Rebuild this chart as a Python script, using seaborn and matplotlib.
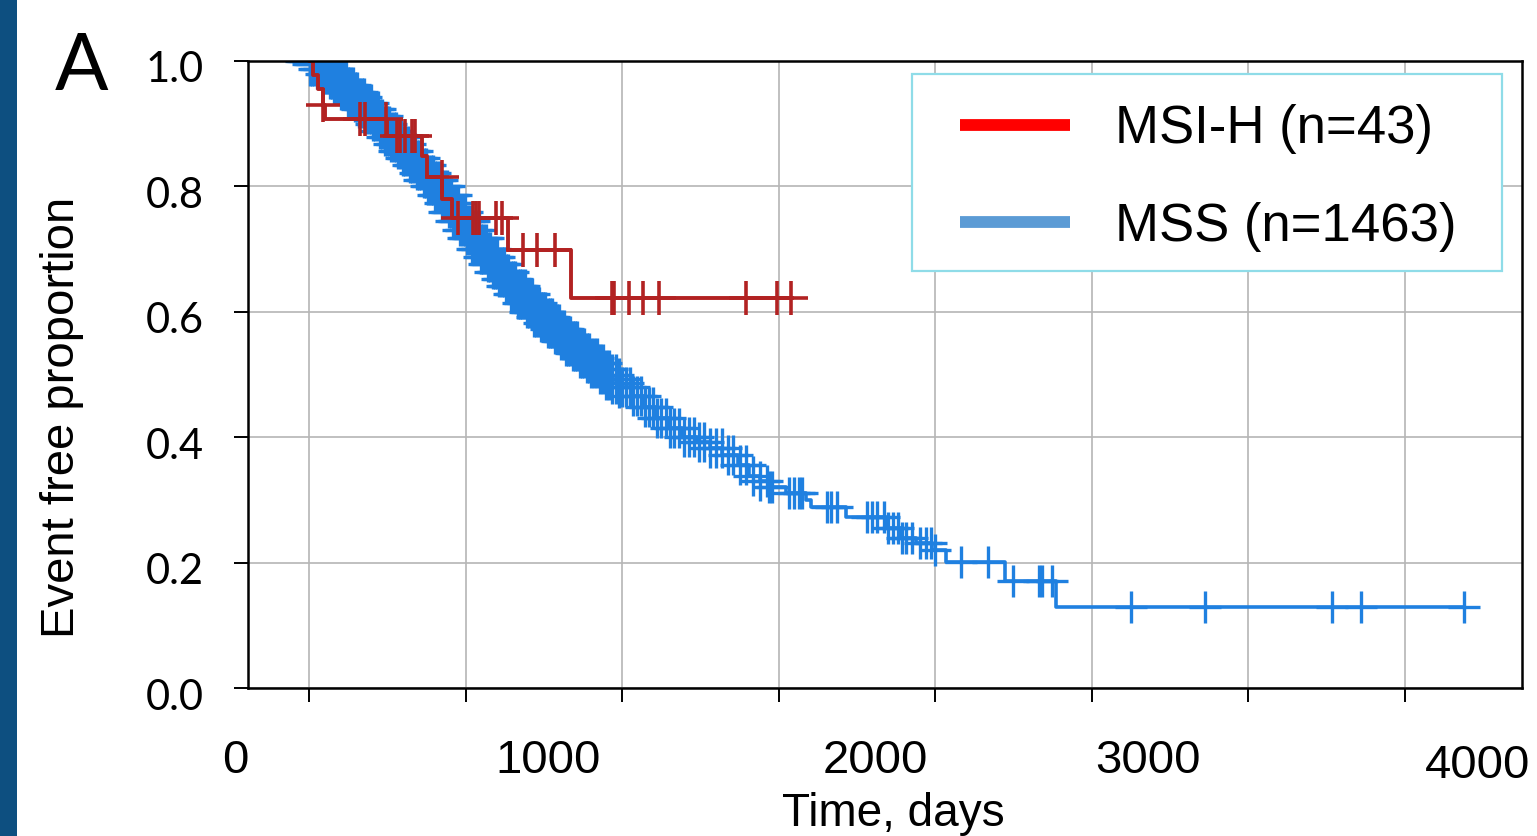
import numpy as np
import seaborn as sns
import matplotlib.pyplot as plt
import matplotlib.transforms as mtransforms
from matplotlib.lines import Line2D
from matplotlib.patches import Rectangle

# ---- data (time in days, event free proportion) ----
# MSS group, n=1463 : step curve knots
mss_time = [0, 20, 40, 60, 80, 100, 120, 140, 160, 180,
            200, 220, 240, 260, 280, 300, 320, 340, 360, 380,
            400, 420, 440, 460, 480, 500, 520, 545, 565, 585,
            605, 625, 645, 665, 690, 714, 736, 758, 780, 800,
            820, 840, 860, 880, 896, 920, 940, 960, 981, 1000,
            1030, 1070, 1109, 1150, 1192, 1240, 1280, 1320, 1370, 1405,
            1440, 1469, 1523, 1587, 1603, 1715, 1842, 1890, 1938, 1989,
            2033, 2224, 2387, 3690]
mss_surv = [1.000, 0.996, 0.988, 0.979, 0.970, 0.961, 0.951, 0.942, 0.933, 0.923,
            0.913, 0.900, 0.889, 0.878, 0.867, 0.857, 0.846, 0.834, 0.822, 0.810,
            0.800, 0.787, 0.773, 0.759, 0.745, 0.731, 0.717, 0.700, 0.688, 0.676,
            0.664, 0.652, 0.641, 0.629, 0.614, 0.600, 0.591, 0.582, 0.572, 0.563,
            0.554, 0.545, 0.535, 0.526, 0.518, 0.509, 0.500, 0.493, 0.486, 0.480,
            0.466, 0.448, 0.430, 0.414, 0.400, 0.392, 0.382, 0.372, 0.355, 0.338,
            0.330, 0.321, 0.311, 0.300, 0.289, 0.273, 0.255, 0.239, 0.231, 0.220,
            0.201, 0.171, 0.129, 0.129]
# MSS censored times
mss_censor = [3, 10, 17, 24, 31, 38, 45, 52, 59, 66, 73, 80, 87, 95, 102, 110,
              117, 124, 131, 139, 146, 153, 161, 168, 175, 183, 190, 197, 205,
              212, 219, 227, 234, 241, 249, 256, 263, 271, 278, 285, 293, 300,
              307, 315, 322, 329, 337, 344, 351, 359, 366, 373, 381, 388, 395,
              403, 410, 417, 425, 432, 439, 447, 454, 461, 469, 476, 483, 491,
              498, 505, 513, 520, 527, 535, 542, 549, 557, 564, 571, 579, 586,
              593, 601, 608, 615, 623, 630, 637, 645, 652, 659, 667, 674, 681,
              689, 696, 703, 711, 718, 725, 733, 740, 747, 755, 762, 769, 777,
              784, 791, 799, 806, 813, 821, 828, 835, 843, 850, 857, 865, 872,
              879, 887, 894, 902, 910, 919, 928, 938, 948, 958, 968, 979, 990,
              1001, 1012, 1024, 1036, 1048, 1060, 1072, 1085, 1098, 1112, 1125,
              1139, 1153, 1167, 1182, 1197, 1212, 1228, 1245, 1262, 1280, 1300,
              1318, 1338, 1355, 1375, 1395, 1418, 1440, 1462, 1469, 1479, 1533,
              1549, 1565, 1575, 1654, 1667, 1686, 1782, 1798, 1814, 1836, 1849,
              1865, 1881, 1893, 1905, 1925, 1950, 1970, 1985, 2000, 2081, 2167,
              2247, 2330, 2342, 2374, 2626, 2861, 3268, 3360, 3690]

# MSI-H group, n=43 : step curve knots
msi_time = [0, 13, 30, 45, 50, 249, 362, 378, 426, 456, 637, 838, 1539]
msi_surv = [1.0, 0.977, 0.955, 0.930, 0.907, 0.880, 0.848, 0.815, 0.780,
            0.750, 0.699, 0.622, 0.622]
# MSI-H censored times
msi_censor = [46, 163, 178, 247, 280, 290, 306, 328, 338, 424, 475, 523, 532,
              542, 596, 615, 682, 727, 784, 966, 975, 1023, 1068, 1119, 1396,
              1495, 1539]

legend_labels = ["MSI-H (n=43)", "MSS (n=1463)"]
x_grid_ticks = [0, 500, 1000, 1500, 2000, 2500, 3000, 3500]
y_ticks = [0.0, 0.2, 0.4, 0.6, 0.8, 1.0]
x_overlay_labels = ["0", "1000", "2000", "3000", "4000"]


def surv_at(times, surv, t):
    idx = np.searchsorted(times, t, side="right") - 1
    return np.asarray(surv)[idx]


W, H = 1537, 836
sns.set_style("whitegrid", rc={
    "axes.edgecolor": "black",
    "grid.color": "#b5b5b5",
    "xtick.bottom": True,
    "ytick.left": True,
    "text.color": "black",
    "xtick.color": "black",
    "ytick.color": "black",
    "axes.labelcolor": "black",
})
plt.rcParams["font.family"] = ["Liberation Sans", "DejaVu Sans"]

fig = plt.figure(figsize=(W / 100, H / 100), dpi=100)
ax = fig.add_axes([248 / W, 1 - 688 / H, (1522 - 248) / W, 627 / H])

blue = "#1f80e0"
red = "#b22222"

# MSS curve + censor marks
sns.lineplot(x=mss_time, y=mss_surv, drawstyle="steps-post", color=blue,
             lw=2.6, estimator=None, sort=False, ax=ax)
mss_c = np.array(mss_censor)
mss_cy = surv_at(mss_time, mss_surv, mss_c)
# the early marks pile up into a thick band in the source, so draw them larger
for lo, hi, size in [(0, 1000, 1250), (1000, 1450, 850), (1450, 4000, 560)]:
    sel = (mss_c >= lo) & (mss_c < hi)
    sns.scatterplot(x=mss_c[sel], y=mss_cy[sel], marker="+", s=size,
                    linewidth=2.4, color=blue, ax=ax, zorder=2)

# MSI-H curve + censor marks
sns.lineplot(x=msi_time, y=msi_surv, drawstyle="steps-post", color=red,
             lw=2.8, estimator=None, sort=False, ax=ax)
sns.scatterplot(x=msi_censor, y=surv_at(msi_time, msi_surv, msi_censor),
                marker="+", s=620, linewidth=2.6, color=red, ax=ax, zorder=3)

ax.set_xlim(-195, 3874)
ax.set_ylim(0, 1)
ax.set_xticks(x_grid_ticks)
ax.set_xticklabels([""] * len(x_grid_ticks))
ax.set_yticks(y_ticks)
ax.set_yticklabels([f"{v:.1f}" for v in y_ticks], family="Lato", fontsize=30)
ax.tick_params(axis="x", length=10, width=1.4, color="black")
ax.tick_params(axis="y", length=10, width=1.4, color="black", pad=22)
ax.grid(True, lw=1.2)
for s in ax.spines.values():
    s.set_linewidth(1.8)
ax.set_xlabel("")
ax.set_ylabel("")

# y tick labels sit a little lower in the source image
shift = mtransforms.ScaledTranslation(0, -6 / 100, fig.dpi_scale_trans)
for lab in ax.get_yticklabels():
    lab.set_transform(lab.get_transform() + shift)

# legend (frame drawn separately, as in the slide)
ax.add_patch(Rectangle((912 / W, 1 - 271 / H), 590 / W, 197 / H,
                       transform=fig.transFigure, facecolor="white",
                       edgecolor="#8fdce8", lw=1.6, zorder=4, clip_on=False))
handles = [Line2D([], [], color="#ff0000", lw=8.5, solid_capstyle="butt"),
           Line2D([], [], color="#5b9bd5", lw=8.5, solid_capstyle="butt")]
ax.legend(handles, legend_labels, loc="upper left",
          bbox_to_anchor=(960 / W, 1 - 104 / H), bbox_transform=fig.transFigure,
          borderaxespad=0, borderpad=0, frameon=False, handlelength=2.08,
          handletextpad=0.85, labelspacing=0.9,
          prop={"family": "Liberation Sans", "size": 38})

# overlaid slide text
x_label_pos = [235, 548, 875, 1148, 1478]
x_label_base = [773, 773, 773, 773, 778]
for lab, xp, yp in zip(x_overlay_labels, x_label_pos, x_label_base):
    fig.text(xp / W, 1 - yp / H, lab, ha="center", va="baseline", fontsize=34)
fig.text(893 / W, 1 - 826 / H, "Time, days", ha="center", va="baseline",
         fontsize=33)
fig.text(62 / W, 1 - 417 / H, "Event free proportion", rotation=90,
         ha="center", va="center", fontsize=34)
fig.text(55 / W, 1 - 90 / H, "A", ha="left", va="baseline", fontsize=57,
         family="Lato")

# dark blue slide edge on the left
fig.patches.append(Rectangle((0, 0), 17 / W, 1, transform=fig.transFigure,
                             facecolor="#0d4f80", edgecolor="none"))

fig.savefig("out.png", dpi=100)
